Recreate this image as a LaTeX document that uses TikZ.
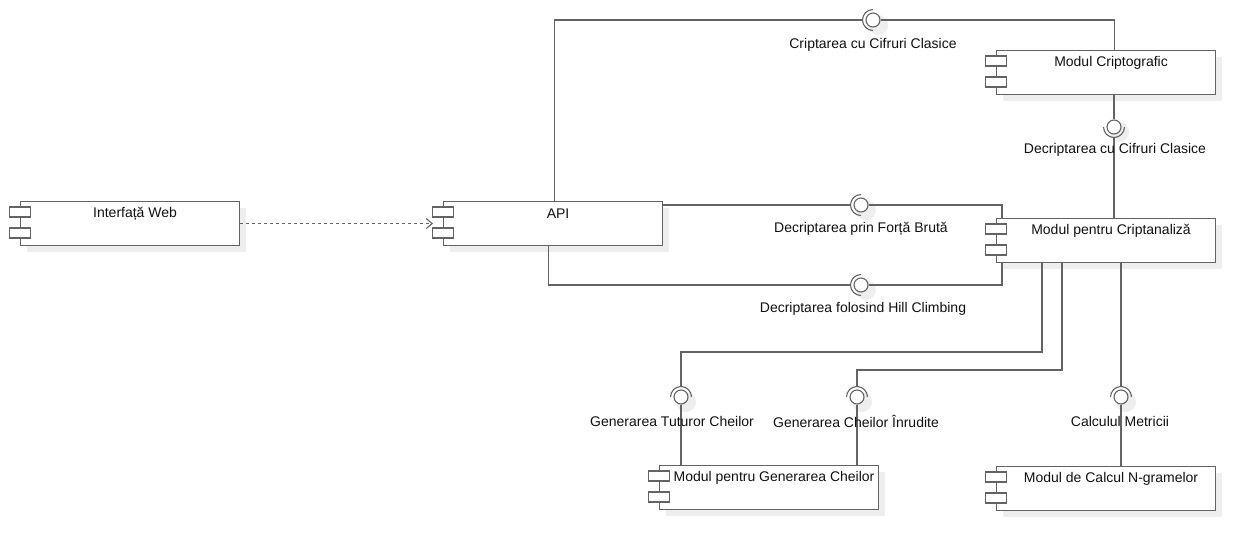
\documentclass[tikz,border=0pt]{standalone}
\usepackage{fontspec}
\setmainfont{Liberation Sans}
\usetikzlibrary{arrows.meta}
\definecolor{linec}{HTML}{636363}
\definecolor{shadowc}{HTML}{EEEEEE}
\definecolor{textc}{HTML}{111111}
\tikzset{
  comp/.style={draw=linec, fill=white, line width=1.1pt, minimum width=219pt,
    minimum height=44pt, inner sep=0pt, anchor=north west},
  iconbox/.style={draw=linec, fill=white, line width=1.1pt, minimum width=21pt,
    minimum height=10pt, inner sep=0pt},
  ctext/.style={text=textc, font=\fontsize{14}{16}\selectfont, inner sep=0pt},
  lbl/.style={text=textc, font=\fontsize{14}{16}\selectfont, inner sep=0pt},
  ball/.style={circle, draw=linec, fill=white, line width=1.1pt, minimum size=14pt, inner sep=0pt},
  conn/.style={draw=linec, line width=1.1pt},
  sock/.style={draw=linec, line width=1.1pt},
  dep/.style={draw=linec, line width=1.1pt, dash pattern=on 3pt off 3pt,
    -{Straight Barb[length=6pt,width=10pt,line width=1.1pt]}},
}
\newcommand\compbox[4]{%
  \fill[shadowc] (#2+7,#3+7) rectangle ++(219,44);
  \node[comp] (#1) at (#2,#3) {};
  \node[iconbox] at ([yshift=-11pt]#1.north west) {};
  \node[iconbox] at ([yshift=-32pt]#1.north west) {};
  \node[ctext] (#1t) at ([xshift=5pt,yshift=-13pt]#1.north) {#4};
}
% name, x, y, socket start angle
\newcommand\lolli[4]{%
  \fill[shadowc] (#2+5,#3+5) circle[radius=10pt];
  \node[ball] (#1) at (#2,#3) {};
  \draw[sock] (#1.center) ++(#4:10.5pt) arc[start angle=#4, delta angle=180, radius=10.5pt];
  \coordinate (#1s) at ([shift={(#4+90:10.5pt)}]#1.center);
}
\begin{document}
\begin{tikzpicture}[x=1pt,y=-1pt]
\useasboundingbox[fill=white] (0,0) rectangle (1254,550);

\compbox{web}{20}{201}{Interfață Web}
\compbox{api}{443}{201}{API}
\compbox{cripto}{996}{50}{Modul Criptografic}
\compbox{criptan}{996}{218}{Modul pentru Criptanaliză}
\compbox{gen}{659}{465}{Modul pentru Generarea Cheilor}
\compbox{ngram}{996}{466}{Modul de Calcul N-gramelor}

\lolli{l1}{873}{20}{90}
\lolli{l2}{861}{205}{90}
\lolli{l3}{861}{285}{90}
\lolli{l4}{1114}{127}{180}
\lolli{l5}{681}{397}{0}
\lolli{l6}{857}{397}{0}
\lolli{l7}{1121}{397}{0}

\coordinate (b5) at (1042,352);
\coordinate (b6) at (1062,370);

% connectors
\draw[conn] ([xshift=1.5pt]api.north) |- (l1s);
\draw[conn] (l1.east) -| ([xshift=8pt]cripto.north);
\draw[conn] (api.east |- l2s) -- (l2s);
\draw[conn] (l2.east) -| ([xshift=6pt]criptan.north west);
\draw[conn] ([xshift=-4.5pt]api.south) |- (l3s);
\draw[conn] (l3.east) -| ([xshift=6pt]criptan.south west);
\draw[conn] (cripto.south -| l4) -- (l4.north);
\draw[conn] (l4s) -- (criptan.north -| l4s);
\draw[conn] (criptan.south -| b5) -- (b5) -| (l5s);
\draw[conn] (l5.south) -- (gen.north -| l5);
\draw[conn] (criptan.south -| b6) -- (b6) -| (l6s);
\draw[conn] (l6.south) -- (gen.north -| l6);
\draw[conn] (criptan.south -| l7s) -- (l7s);
\draw[conn] (l7.south) -- (ngram.north -| l7);
\draw[dep] (web.east) -- ([xshift=-10pt]api.west);

% interface labels
\node[lbl] (t1) at (873,45) {Criptarea cu Cifruri Clasice};
\node[lbl] (t2) at (1115,150) {Decriptarea cu Cifruri Clasice};
\node[lbl] (t3) at (861,229) {Decriptarea prin Forță Brută};
\node[lbl] (t4) at (863,309) {Decriptarea folosind Hill Climbing};
\node[lbl] (t5) at (672,421) {Generarea Tuturor Cheilor};
\node[lbl] (t6) at (856,421) {Generarea Cheilor Înrudite};
\node[lbl] (t7) at (1120,421) {Calculul Metricii};
\end{tikzpicture}
\end{document}
